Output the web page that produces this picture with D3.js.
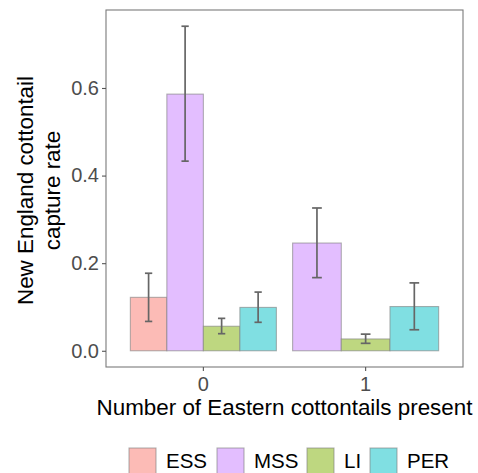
<!DOCTYPE html>
<html>
<head>
<meta charset="utf-8">
<script src="https://cdn.jsdelivr.net/npm/d3@7"></script>
<style>
  html, body { margin: 0; padding: 0; background: #fff; }
  svg { display: block; font-family: "Liberation Sans", Arial, Helvetica, sans-serif; }
</style>
</head>
<body>
<svg id="chart" width="478" height="473"></svg>
<script>
// Eastern cottontail count groups (x axis)
const groups = ["0", "1"];
// Habitat types, in legend order
const habitats = ["ESS", "MSS", "LI", "PER"];
const habitatColors = ["#F8766D", "#C77CFF", "#7CAE00", "#00BFC4"];

// Mean capture rate and error bar limits per group, by habitat (null = not sampled)
const rateGroup0 = [0.122, 0.586, 0.056, 0.099];
const lowerGroup0 = [0.067, 0.433, 0.039, 0.065];
const upperGroup0 = [0.177, 0.741, 0.074, 0.134];
const rateGroup1 = [null, 0.246, 0.027, 0.101];
const lowerGroup1 = [null, 0.167, 0.017, 0.048];
const upperGroup1 = [null, 0.326, 0.038, 0.155];

const yTicks = [0.0, 0.2, 0.4, 0.6];
const xTitle = "Number of Eastern cottontails present";
const yTitleLines = ["New England cottontail", "capture rate"];

const rows = [];
[[rateGroup0, lowerGroup0, upperGroup0], [rateGroup1, lowerGroup1, upperGroup1]].forEach((g, gi) => {
  habitats.forEach((h, hi) => {
    if (g[0][hi] != null) {
      rows.push({ group: groups[gi], habitat: h, rate: g[0][hi], lo: g[1][hi], hi: g[2][hi] });
    }
  });
});

const svg = d3.select("#chart");
const panel = { left: 106, right: 463, top: 10, bottom: 367 };

const yMax = d3.max(rows, d => d.hi);
const y = d3.scaleLinear()
  .domain([-0.05 * yMax, yMax * 1.05])
  .range([panel.bottom, panel.top]);

const x = d3.scaleBand()
  .domain(groups)
  .range([panel.left, panel.right])
  .paddingInner(0.1)
  .paddingOuter(0.15);

const color = d3.scaleOrdinal().domain(habitats).range(habitatColors);
const fillOf = h => d3.interpolateRgb("#ffffff", color(h))(0.5); // half-transparent fill on white

// Bars, dodged within each group among the habitats present
const inner = {};
groups.forEach(g => {
  const present = rows.filter(r => r.group === g).map(r => r.habitat);
  inner[g] = d3.scaleBand().domain(present).range([0, x.bandwidth()]).padding(0);
});

const plot = svg.append("g");

plot.selectAll("rect.bar")
  .data(rows)
  .join("rect")
  .attr("class", "bar")
  .attr("x", d => x(d.group) + inner[d.group](d.habitat))
  .attr("width", d => inner[d.group].bandwidth())
  .attr("y", d => y(d.rate))
  .attr("height", d => y(0) - y(d.rate))
  .attr("fill", d => fillOf(d.habitat))
  .attr("stroke", "#7f7f7f")
  .attr("stroke-opacity", 0.6)
  .attr("stroke-width", 1.1);

// Error bars
const eb = plot.selectAll("g.err")
  .data(rows)
  .join("g")
  .attr("class", "err")
  .attr("stroke", "#666666")
  .attr("stroke-width", 1.7);

const cx = d => x(d.group) + inner[d.group](d.habitat) + inner[d.group].bandwidth() / 2;
const capHalf = d => inner[d.group].bandwidth() * 0.1;

eb.append("line")
  .attr("x1", cx).attr("x2", cx)
  .attr("y1", d => y(d.lo)).attr("y2", d => y(d.hi));
eb.append("line")
  .attr("x1", d => cx(d) - capHalf(d)).attr("x2", d => cx(d) + capHalf(d))
  .attr("y1", d => y(d.hi)).attr("y2", d => y(d.hi));
eb.append("line")
  .attr("x1", d => cx(d) - capHalf(d)).attr("x2", d => cx(d) + capHalf(d))
  .attr("y1", d => y(d.lo)).attr("y2", d => y(d.lo));

// Panel border
svg.append("rect")
  .attr("x", panel.left).attr("y", panel.top)
  .attr("width", panel.right - panel.left)
  .attr("height", panel.bottom - panel.top)
  .attr("fill", "none")
  .attr("stroke", "#7a7a7a")
  .attr("stroke-width", 1.1);

// Axes
const yAxis = d3.axisLeft(y).tickValues(yTicks).tickFormat(d3.format(".1f")).tickSize(4).tickPadding(3);
const gy = svg.append("g").attr("transform", `translate(${panel.left},0)`).call(yAxis);
gy.select(".domain").remove();

const xAxis = d3.axisBottom(x).tickSize(4).tickPadding(3);
const gx = svg.append("g").attr("transform", `translate(0,${panel.bottom})`).call(xAxis);
gx.select(".domain").remove();

[gx, gy].forEach(g => {
  g.selectAll(".tick line").attr("stroke", "#555555").attr("stroke-width", 1.1);
  g.selectAll(".tick text")
    .attr("fill", "#4d4d4d")
    .style("font-size", "20px")
    .style("font-family", "'Liberation Sans', Arial, sans-serif");
});
gx.selectAll(".tick text").attr("dy", "0.85em");

// Axis titles
svg.append("text")
  .attr("x", (panel.left + panel.right) / 2)
  .attr("y", 415)
  .attr("text-anchor", "middle")
  .attr("fill", "#000")
  .style("font-size", "22.4px")
  .text(xTitle);

const yt = svg.append("text")
  .attr("transform", `translate(0,${(panel.top + panel.bottom) / 2 + 2}) rotate(-90)`)
  .attr("text-anchor", "middle")
  .attr("fill", "#000")
  .style("font-size", "22.4px");
yt.selectAll("tspan")
  .data(yTitleLines)
  .join("tspan")
  .attr("x", 0)
  .attr("y", (d, i) => 33 + i * 27)
  .text(d => d);

// Legend
const legendX = [129, 217, 307, 370];
const legend = svg.append("g");
habitats.forEach((h, i) => {
  legend.append("rect")
    .attr("x", legendX[i]).attr("y", 448)
    .attr("width", 27).attr("height", 27)
    .attr("fill", fillOf(h))
    .attr("stroke", "#7f7f7f")
    .attr("stroke-opacity", 0.6)
    .attr("stroke-width", 1.1);
  legend.append("text")
    .attr("x", legendX[i] + 37)
    .attr("y", 468)
    .attr("fill", "#000")
    .style("font-size", "20.5px")
    .text(h);
});
</script>
</body>
</html>
